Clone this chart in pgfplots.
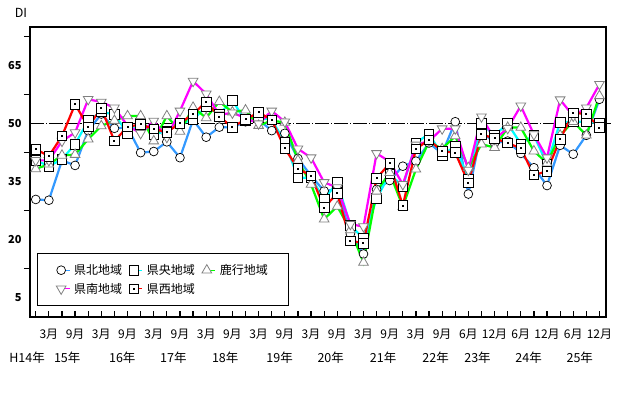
\documentclass[border=0pt]{standalone}
\usepackage{fontspec}
\setmainfont{Noto Sans CJK JP}
\usepackage{pgfplots}
\pgfplotsset{compat=1.18}
\usepackage{pgfplotstable}

\definecolor{cBlue}{RGB}{51,153,255}
\definecolor{cCyan}{RGB}{0,255,255}
\definecolor{cGreen}{RGB}{0,255,0}
\definecolor{cMag}{RGB}{255,0,255}
\definecolor{cRed}{RGB}{255,0,0}

\pgfdeclareplotmark{sqdot}{%
  \pgfpathrectangle{\pgfpoint{-\pgfplotmarksize}{-\pgfplotmarksize}}{\pgfpoint{2\pgfplotmarksize}{2\pgfplotmarksize}}%
  \pgfusepathqfillstroke
  \begin{pgfscope}%
  \pgfsetfillcolor{black}%
  \pgfpathrectangle{\pgfpoint{-1pt}{-1pt}}{\pgfpoint{2pt}{2pt}}%
  \pgfusepathqfill
  \end{pgfscope}%
}

\pgfplotstableread{
i  a    b    c    d    e
0  30.4 40.5 38.3 40.5 43.4
1  30.2 39.0 39.5 40.5 41.6
2  40.5 40.8 41.8 45.5 46.8
3  39.2 44.7 42.0 47.7 55.0
4  48.2 50.8 46.0 56.3 49.2
5  52.5 53.0 49.4 55.6 54.0
6  48.8 52.4 50.8 54.1 45.5
7  49.0 47.5 52.0 49.5 49.2
8  42.5 50.2 52.0 47.5 49.8
9  42.8 47.3 45.5 50.7 48.6
10 45.3 48.0 52.0 46.5 47.8
11 41.2 50.0 48.0 53.3 50.1
12 51.0 51.0 54.2 61.0 52.5
13 46.5 54.4 51.5 57.7 55.6
14 49.1 52.5 55.7 52.3 51.8
15 49.0 56.0 53.0 52.8 49.1
16 50.5 50.7 53.5 51.5 51.1
17 51.0 51.5 49.5 50.0 52.9
18 48.2 51.0 50.8 53.3 51.0
19 47.5 45.3 50.3 50.5 43.6
20 41.0 36.0 40.5 43.5 38.4
21 36.5 36.0 34.3 41.2 36.5
22 32.6 30.5 25.3 34.8 28.3
23 33.0 34.8 28.6 33.5 32.0
24 21.5 23.7 22.5 24.0 19.7
25 16.3 20.3 14.1 23.4 19.1
26 33.0 30.6 32.5 42.3 35.9
27 35.3 37.0 37.3 40.2 39.7
28 39.0 33.7 28.5 34.3 28.8
29 40.3 45.0 38.2 44.5 43.5
30 45.0 47.4 45.3 45.5 45.8
31 42.3 41.8 43.5 48.7 42.9
32 50.5 44.2 46.8 48.7 42.5
33 31.8 35.6 38.6 38.0 34.7
34 48.0 50.0 44.7 51.8 47.2
35 45.0 47.0 43.8 46.0 46.2
36 45.5 50.0 49.0 48.8 45.0
37 42.3 44.8 49.0 54.6 43.6
38 38.6 47.0 42.9 47.2 36.7
39 34.0 39.5 39.8 41.2 37.7
40 44.4 50.4 47.0 56.2 46.0
41 42.1 50.5 50.5 52.0 52.8
42 47.0 50.5 47.0 54.1 52.5
43 56.3 50.1 57.2 60.2 49.0
}\data

\begin{document}
\begin{tikzpicture}
\path[use as bounding box] (0,0) rectangle (618pt,393pt);
\node[font=\fontsize{12.5}{14}\selectfont] at (21pt,380pt) {DI};
\begin{axis}[
  at={(30pt,76pt)}, anchor=south west,
  scale only axis, width=576pt, height=290pt,
  xmin=-0.44, xmax=43.5, ymin=0, ymax=75,
  clip=false,
  axis line style={line width=1.6pt},
  tick align=outside,
  xtick pos=bottom, ytick pos=left,
  xtick={0,...,43},
  xticklabels={,3月,,9月,,3月,,9月,,3月,,9月,,3月,,9月,,3月,,9月,,3月,,9月,,3月,,9月,,3月,,9月,,6月,,12月,,6月,,12月,,6月,,12月},
  x tick style={yshift=6pt, line width=1.2pt, black},
  y tick style={line width=1.2pt, black},
  major tick length=6pt,
  xticklabel style={font=\fontsize{12}{14}\selectfont, yshift=-3pt},
  ytick={12.5,27.5,42.5,57.5,72.5},
  yticklabels={,,,,},
  extra y ticks={5,20,35,50,65},
  extra y tick labels={5,20,35,50,65},
  extra y tick style={major tick length=0pt},
  yticklabel style={font=\fontsize{11}{13}\selectfont\bfseries, xshift=-5pt},
  legend columns=3,
  legend cell align=left,
  legend style={at={(0.012,0.038)}, anchor=south west, draw=black, line width=0.8pt,
    inner xsep=19pt, inner ysep=9pt, font=\fontsize{12}{14}\selectfont,
    nodes={inner sep=2pt}, row sep=3pt,
    /tikz/every odd column/.append style={column sep=2pt},
    /tikz/every even column/.append style={column sep=5pt}},
  legend image code/.code={%
    \draw[#1, mark=none, line width=1pt] (0pt,0pt) -- (8.5pt,0pt);
    \draw[#1] plot coordinates {(0pt,0pt)};
  },
]
\addplot[black, line width=0.8pt, dash pattern=on 14pt off 2pt on 1pt off 2pt, forget plot]
  coordinates {(-0.44,50) (43.85,50)};
\addplot[cBlue, line width=2.2pt, mark=*, mark size=4.4pt,
  mark options={solid, fill=white, draw=black, line width=0.7pt}] table[x=i,y=a]{\data};
\addplot[cCyan, line width=2.2pt, mark=square*, mark size=4.8pt,
  mark options={solid, fill=white, draw=black, line width=0.8pt}] table[x=i,y=b]{\data};
\addplot[cGreen, line width=2.2pt, mark=triangle*, mark size=5.6pt,
  mark options={solid, fill=white, draw=gray, line width=0.8pt}] table[x=i,y=c]{\data};
\addplot[cMag, line width=2.2pt, mark=triangle*, mark size=5.6pt,
  mark options={solid, fill=white, draw=gray, line width=0.8pt, rotate=180}] table[x=i,y=d]{\data};
\addplot[cRed, line width=2.2pt, mark=sqdot, mark size=4.8pt,
  mark options={solid, fill=white, draw=black, line width=0.8pt}] table[x=i,y=e]{\data};
\legend{県北地域,県央地域,鹿行地域,県南地域,県西地域}
\begin{scope}[font=\fontsize{12.5}{14}\selectfont]
\node at (axis cs:-0.66,0) [yshift=-41pt] {H14年};
\node at (axis cs:2.4,0) [yshift=-41pt] {15年};
\node at (axis cs:6.6,0) [yshift=-41pt] {16年};
\node at (axis cs:10.5,0) [yshift=-41pt] {17年};
\node at (axis cs:14.45,0) [yshift=-41pt] {18年};
\node at (axis cs:18.6,0) [yshift=-41pt] {19年};
\node at (axis cs:22.5,0) [yshift=-41pt] {20年};
\node at (axis cs:26.5,0) [yshift=-41pt] {21年};
\node at (axis cs:30.5,0) [yshift=-41pt] {22年};
\node at (axis cs:33.7,0) [yshift=-41pt] {23年};
\node at (axis cs:37.6,0) [yshift=-41pt] {24年};
\node at (axis cs:41.5,0) [yshift=-41pt] {25年};
\end{scope}
\end{axis}
\end{tikzpicture}
\end{document}
